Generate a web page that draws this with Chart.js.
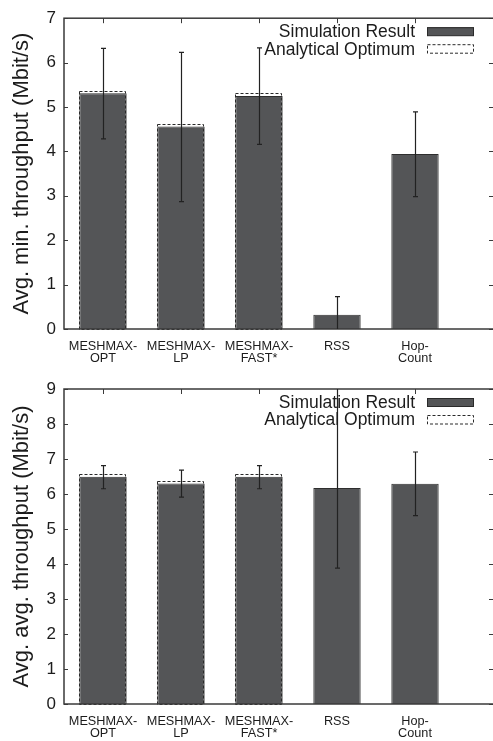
<!DOCTYPE html>
<html lang="en">
<head>
<meta charset="UTF-8">
<title>MESHMAX throughput</title>
<script src="https://cdn.jsdelivr.net/npm/chart.js@4.4.0/dist/chart.umd.min.js"></script>
<style>
    html, body { margin: 0; padding: 0; background: #fff; overflow: hidden; }
    canvas { display: block; }
</style>
</head>
<body>
<canvas id="minChart" width="493" height="370"></canvas>
<canvas id="avgChart" width="493" height="371"></canvas>
<script>
const categories = [['MESHMAX-', 'OPT'], ['MESHMAX-', 'LP'], ['MESHMAX-', 'FAST*'], 'RSS', ['Hop-', 'Count']];

// minimum throughput per routing scheme (Mbit/s)
const minSimulation = [5.31, 4.56, 5.25, 0.32, 3.94];
const minOptimum = [5.37, 4.61, 5.31, null, null];
const minErrLow = [4.28, 2.87, 4.16, -0.09, 2.98];
const minErrHigh = [6.32, 6.23, 6.33, 0.73, 4.89];

// average throughput per routing scheme (Mbit/s)
const avgSimulation = [6.49, 6.30, 6.49, 6.17, 6.29];
const avgOptimum = [6.57, 6.38, 6.57, null, null];
const avgErrLow = [6.15, 5.91, 6.15, 3.88, 5.38];
const avgErrHigh = [6.81, 6.68, 6.81, 9.2, 7.20];

const FONT = '"Liberation Sans", Arial, Helvetica, sans-serif';
const INK = '#1c1c1c';
const FRAME = '#3a3a3a';
const BAR = '#545557';

function points(values) {
    return values.map((v, i) => ({ x: i, y: v })).filter(p => p.y !== null);
}

// gnuplot-like frame, inward ticks, dashed optimum boxes, error bars and key
const gnuplotLook = {
    id: 'gnuplotLook',
    beforeDatasetsDraw(chart) {
        const { ctx, chartArea: a, scales: { x, y } } = chart;
        ctx.save();
        ctx.strokeStyle = FRAME;
        ctx.lineWidth = 1;
        y.ticks.forEach(t => {
            const py = Math.round(y.getPixelForValue(t.value)) + 0.5;
            ctx.beginPath();
            ctx.moveTo(a.left, py); ctx.lineTo(a.left + 4, py);
            ctx.moveTo(a.right - 4, py); ctx.lineTo(a.right, py);
            ctx.stroke();
        });
        x.ticks.forEach(t => {
            const px = Math.round(x.getPixelForValue(t.value)) + 0.5;
            ctx.beginPath();
            ctx.moveTo(px, a.top); ctx.lineTo(px, a.top + 5);
            ctx.moveTo(px, a.bottom); ctx.lineTo(px, a.bottom - 5);
            ctx.stroke();
        });
        ctx.restore();
    },
    afterDatasetsDraw(chart) {
        const { ctx, chartArea: a, scales: { y } } = chart;
        const sim = chart.data.datasets[0];
        ctx.save();

        // analytical optimum as dashed outline
        ctx.strokeStyle = '#2a2a2a';
        ctx.lineWidth = 1;
        ctx.setLineDash([3, 2]);
        chart.getDatasetMeta(1).data.forEach(bar => {
            const w = bar.width;
            ctx.strokeRect(Math.round(bar.x - w / 2) + 0.5, Math.round(bar.y) + 0.5,
                Math.round(w) - 1, Math.round(bar.base - bar.y));
        });
        ctx.setLineDash([]);

        // frame
        ctx.strokeStyle = FRAME;
        ctx.lineWidth = 1.5;
        ctx.strokeRect(a.left, a.top, a.right - a.left + 2, a.bottom - a.top);

        // error bars
        ctx.beginPath();
        ctx.rect(a.left, a.top, a.right - a.left, a.bottom - a.top);
        ctx.clip();
        ctx.strokeStyle = '#222';
        ctx.lineWidth = 1.2;
        chart.getDatasetMeta(0).data.forEach((bar, i) => {
            const px = Math.round(bar.x) + 0.5;
            const lo = y.getPixelForValue(sim.errLow[i]);
            const hi = y.getPixelForValue(sim.errHigh[i]);
            ctx.beginPath();
            ctx.moveTo(px, lo); ctx.lineTo(px, hi);
            ctx.moveTo(px - 2.5, lo); ctx.lineTo(px + 2.5, lo);
            ctx.moveTo(px - 2.5, hi); ctx.lineTo(px + 2.5, hi);
            ctx.stroke();
        });
        ctx.restore();
    },
    afterDraw(chart) {
        const { ctx, chartArea: a } = chart;
        const [sim, opt] = chart.data.datasets;
        const tx = a.right - 78;
        const sx = a.right - 66;
        ctx.save();
        ctx.font = '17.5px ' + FONT;
        ctx.fillStyle = INK;
        ctx.textAlign = 'right';
        ctx.textBaseline = 'middle';
        ctx.fillText(sim.label, tx, a.top + 14);
        ctx.fillText(opt.label, tx, a.top + 31.5);

        ctx.fillStyle = BAR;
        ctx.fillRect(sx, a.top + 9, 47, 8.5);
        ctx.strokeStyle = '#2a2a2a';
        ctx.lineWidth = 1;
        ctx.strokeRect(sx + 0.5, a.top + 9.5, 46, 8);
        ctx.setLineDash([3, 2]);
        ctx.strokeRect(sx + 0.5, a.top + 26.5, 46, 8.5);
        ctx.restore();
    }
};

function makeChart(id, sim, opt, errLow, errHigh, yMax, yTitle, topPad, xHeight) {
    return new Chart(document.getElementById(id), {
        type: 'bar',
        data: {
            datasets: [
                {
                    label: 'Simulation Result',
                    data: points(sim),
                    errLow: errLow,
                    errHigh: errHigh,
                    backgroundColor: BAR,
                    borderColor: '#2e2e2e',
                    borderWidth: 1,
                    grouped: false,
                    categoryPercentage: 1,
                    barPercentage: 0.607
                },
                {
                    label: 'Analytical Optimum',
                    data: points(opt),
                    backgroundColor: 'rgba(0,0,0,0)',
                    borderWidth: 0,
                    grouped: false,
                    categoryPercentage: 1,
                    barPercentage: 0.607
                }
            ]
        },
        options: {
            responsive: false,
            animation: false,
            devicePixelRatio: 1,
            layout: { padding: { top: topPad, right: 0, bottom: 0, left: 0 } },
            plugins: { legend: { display: false }, tooltip: { enabled: false } },
            scales: {
                x: {
                    type: 'linear',
                    offset: false,
                    min: -0.5,
                    max: 5,
                    grid: { display: false, drawTicks: false },
                    border: { display: false },
                    afterBuildTicks: scale => {
                        scale.ticks = categories.map((c, i) => ({ value: i }));
                    },
                    afterFit: scale => { scale.height = xHeight; },
                    ticks: {
                        autoSkip: false,
                        maxRotation: 0,
                        padding: 11.5,
                        color: INK,
                        font: { family: FONT, size: 12.7, lineHeight: 0.92 },
                        callback: v => categories[v]
                    }
                },
                y: {
                    min: 0,
                    max: yMax,
                    grid: { display: false, drawTicks: false },
                    border: { display: false },
                    afterFit: scale => { scale.width = 64; },
                    ticks: {
                        stepSize: 1,
                        padding: 8,
                        color: INK,
                        font: { family: FONT, size: 17 }
                    },
                    title: {
                        display: true,
                        text: yTitle,
                        color: INK,
                        padding: { top: 8.5, bottom: 0 },
                        font: { family: FONT, size: 22 }
                    }
                }
            }
        },
        plugins: [gnuplotLook]
    });
}

makeChart('minChart', minSimulation, minOptimum, minErrLow, minErrHigh, 7,
    'Avg. min. throughput (Mbit/s)', 15, 41);
makeChart('avgChart', avgSimulation, avgOptimum, avgErrLow, avgErrHigh, 9,
    'Avg. avg. throughput (Mbit/s)', 19, 37);
</script>
</body>
</html>
